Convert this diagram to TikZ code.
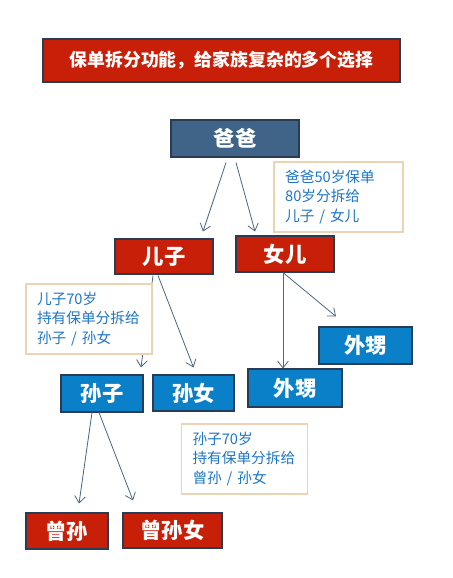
\documentclass[tikz,border=0pt]{standalone}
\usepackage{fontspec}
\newfontfamily\cjk{Noto Sans CJK SC}
\usetikzlibrary{arrows.meta,calc}

\definecolor{boxred}{RGB}{200,32,8}
\definecolor{boxblue}{RGB}{10,128,200}
\definecolor{boxsteel}{RGB}{63,100,135}
\definecolor{boxline}{RGB}{40,60,85}
\definecolor{notetext}{RGB}{30,118,198}
\definecolor{noteline}{RGB}{236,212,178}
\definecolor{linkgray}{RGB}{75,102,130}

\begin{document}
\begin{tikzpicture}[x=0.75pt, y=-0.75pt,
    box/.style={draw=boxline, line width=0.8pt, text=white, inner sep=0pt, font=\cjk\bfseries\fontsize{16}{18}\selectfont},
    redbox/.style={box, fill=boxred},
    bluebox/.style={box, fill=boxblue},
    notebox/.style={draw=noteline, fill=white, line width=0.8pt, text=notetext, align=left, inner xsep=8pt, minimum height=52.5pt, font=\cjk\fontsize{11}{14.6}\selectfont},
    link/.style={draw=linkgray, line width=0.6pt, -{Straight Barb[length=5pt,width=8pt]}}]

    % page size of the reference
    \fill[white] (0,0) rectangle (453,578);
    \useasboundingbox (0,0) rectangle (453,578);

    % title bar
    \node[redbox, minimum width=267.75pt, minimum height=32.25pt, font=\cjk\bfseries\fontsize{13.4}{16}\selectfont] (title) at (221.5,60.5) {保单拆分功能，给家族复杂的多个选择};

    % the family boxes
    \node[box, fill=boxsteel, minimum width=96pt, minimum height=27.75pt] (baba) at (235,138.5) {爸爸};
    \node[redbox, minimum width=73.5pt, minimum height=26.25pt] (erzi) at (164,256.5) {儿子};
    \node[redbox, minimum width=73.5pt, minimum height=27pt] (nver) at (285,254) {女儿};
    \node[bluebox, minimum width=61.5pt, minimum height=27.75pt] (sunzi) at (102,393.5) {孙子};
    \node[bluebox, minimum width=60.75pt, minimum height=27pt] (sunnv) at (193.5,393) {孙女};
    \node[bluebox, minimum width=69.75pt, minimum height=27.75pt] (waishengA) at (365.5,345.5) {外甥};
    \node[bluebox, minimum width=70.5pt, minimum height=28.5pt] (waishengB) at (295,388) {外甥};
    \node[redbox, minimum width=61.5pt, minimum height=27pt] (zengsun) at (67,531) {曾孙};
    \node[redbox, minimum width=74.25pt, minimum height=26.25pt] (zengsunnv) at (172.5,530.5) {曾孙女};

    % arrows between the generations
    \draw[link] ($(baba.south)+(-9,5)$) -- ($(erzi.north)+(39,-7)$);
    \draw[link] ($(baba.south)+(1,5)$) -- ($(nver.north)+(-30,-4)$);
    \draw[link] ($(erzi.south)+(-11,1)$) -- ($(sunzi.north)+(39,-7)$);
    \draw[link] ($(erzi.south)+(-6,1)$) -- ($(sunnv.north)+(0,-7)$);
    \draw[link] ($(nver.south)+(-2,0)$) -- ($(waishengB.north)+(-12,0)$);
    \draw[link] ($(nver.south)+(-2,0)$) -- ($(waishengA.north)+(-29.5,-10)$);
    \draw[link] ($(sunzi.south)+(-10,0)$) -- ($(zengsun.north)+(12,-9)$);
    \draw[link] ($(sunzi.south)+(-3,0)$) -- ($(zengsunnv.north)+(-39.5,-12)$);

    % notes (drawn last, they hide the arrows behind them)
    \node[notebox, minimum width=96.75pt, text width=80pt] (noteA) at (338.5,197) {爸爸50岁保单\\80岁分拆给\\儿子 / 女儿};
    \node[notebox, minimum width=94.5pt, text width=78pt] (noteB) at (89,319) {儿子70岁\\持有保单分拆给\\孙子 / 孙女};
    \node[notebox, minimum width=93.75pt, text width=78pt] (noteC) at (244.5,459) {孙子70岁\\持有保单分拆给\\曾孙 / 孙女};

\end{tikzpicture}
\end{document}
